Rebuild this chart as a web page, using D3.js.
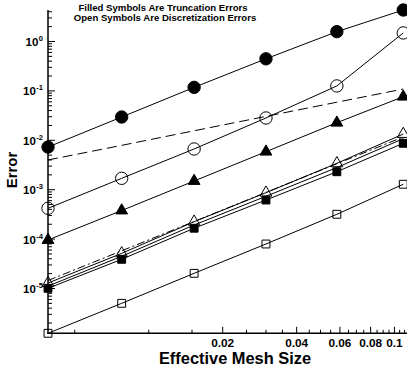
<!DOCTYPE html>
<html>
<head>
<meta charset="utf-8">
<script src="https://cdn.jsdelivr.net/npm/d3@7"></script>
<style>
  body { margin: 0; background: #fff; }
  svg { display: block; font-family: 'Liberation Sans', Arial, sans-serif; font-weight: bold; }
</style>
</head>
<body>
<svg id="chart" width="407" height="366"></svg>
<script>
// mesh sizes (x)
const meshSize = [0.00389, 0.00776, 0.0153, 0.0300, 0.0583, 0.1086];

// series values
const truncCircle = [7.3e-3, 0.0296, 0.118, 0.446, 1.58, 4.34];      // filled circles
const discCircle = [4.2e-4, 1.70e-3, 6.67e-3, 0.0283, 0.126, 1.49];  // open circles
const firstOrderRef = [4.0e-3, 7.9e-3, 0.0156, 0.0305, 0.059, 0.109]; // dashed
const truncTriangle = [9.6e-5, 3.79e-4, 1.50e-3, 5.88e-3, 0.0227, 0.0763]; // filled triangles
const secondOrderRef = [1.45e-5, 5.8e-5, 2.27e-4, 8.8e-4, 3.35e-3, 0.0117]; // dash-dot
const discTriangle = [1.29e-5, 5.15e-5, 2.25e-4, 8.69e-4, 3.42e-3, 0.0134]; // open triangles
const midLine = [1.12e-5, 4.49e-5, 1.93e-4, 7.35e-4, 2.81e-3, 0.0108];   // plain solid
const truncSquare = [1.01e-5, 3.90e-5, 1.66e-4, 6.18e-4, 2.31e-3, 8.70e-3]; // filled squares
const discSquare = [1.24e-6, 5.01e-6, 2.03e-5, 7.96e-5, 3.18e-4, 1.29e-3];  // open squares

const xTickLabels = [0.02, 0.04, 0.06, 0.08, 0.1];
const yTickLabels = [1e-5, 1e-4, 1e-3, 1e-2, 1e-1, 1e0];

const svg = d3.select('#chart');
const plotLeft = 48, plotRight = 407, plotTop = 10, plotBottom = 333.3;

const x = d3.scaleLog().domain([0.00389, 0.1125]).range([plotLeft, plotRight]);
const y = d3.scaleLog().domain([1.24e-6, 4.34]).range([plotBottom, plotTop]);

// titles
svg.append('text').attr('x', 163).attr('y', 11).attr('text-anchor', 'middle')
  .attr('font-size', '9.6px').text('Filled Symbols Are Truncation Errors');
svg.append('text').attr('x', 165).attr('y', 20.5).attr('text-anchor', 'middle')
  .attr('font-size', '9.6px').text('Open Symbols Are Discretization Errors');

// x axis: minor every 0.005, major every 0.02
const xMinor = d3.range(1, 23).map((i) => i * 0.005).filter((v) => v >= x.domain()[0] && v <= x.domain()[1]);
const gx = svg.append('g');
gx.append('line').attr('x1', plotLeft - 0.75).attr('x2', plotRight).attr('y1', plotBottom).attr('y2', plotBottom)
  .attr('stroke', '#000').attr('stroke-width', 1.5);
gx.selectAll('.xminor').data(xMinor).enter().append('line')
  .attr('x1', (d) => x(d)).attr('x2', (d) => x(d))
  .attr('y1', plotBottom).attr('y2', (d) => xTickLabels.some((t) => Math.abs(t - d) < 1e-9) ? plotBottom - 6.5 : plotBottom - 3.5)
  .attr('stroke', '#000').attr('stroke-width', 1);
gx.selectAll('.xlab').data(xTickLabels).enter().append('text')
  .attr('x', (d) => x(d)).attr('y', 347).attr('text-anchor', 'middle')
  .attr('font-size', '11.8px').text((d) => d);
svg.append('text').attr('x', 235).attr('y', 364).attr('text-anchor', 'middle')
  .attr('font-size', '16.4px').text('Effective Mesh Size');

// y axis: log minor ticks
const yTicks = [];
for (let e = -6; e <= 0; e++) for (let m = 1; m <= 9; m++) {
  const v = m * Math.pow(10, e);
  if (v >= y.domain()[0] && v <= y.domain()[1]) yTicks.push({ v, major: m === 1 });
}
const gy = svg.append('g');
gy.append('line').attr('x1', plotLeft).attr('x2', plotLeft).attr('y1', plotTop).attr('y2', plotBottom + 0.75)
  .attr('stroke', '#000').attr('stroke-width', 1.5);
gy.selectAll('.ytick').data(yTicks).enter().append('line')
  .attr('x1', plotLeft).attr('x2', (d) => d.major ? plotLeft + 7 : plotLeft + 4)
  .attr('y1', (d) => y(d.v)).attr('y2', (d) => y(d.v))
  .attr('stroke', '#000').attr('stroke-width', 1);
const ylab = gy.selectAll('.ylab').data(yTickLabels).enter().append('text')
  .attr('x', 43).attr('y', (d) => y(d) + 4.5).attr('text-anchor', 'end').attr('font-size', '11.5px');
ylab.append('tspan').text('10');
ylab.append('tspan').attr('font-size', '7.5px').attr('dx', 0.5).attr('dy', -5)
  .text((d) => Math.round(Math.log10(d)));
svg.append('text').attr('transform', 'translate(17,170) rotate(-90)').attr('text-anchor', 'middle')
  .attr('font-size', '15px').text('Error');

// lines
const line = d3.line().x((d) => x(d[0])).y((d) => y(d[1]));
const series = [
  { vals: truncCircle, dash: null, mark: 'circle', fill: true },
  { vals: discCircle, dash: null, mark: 'circle', fill: false },
  { vals: firstOrderRef, dash: '10,5', mark: null },
  { vals: truncTriangle, dash: null, mark: 'triangle', fill: true },
  { vals: secondOrderRef, dash: '8,3,2,3', mark: null },
  { vals: discTriangle, dash: null, mark: 'triangle', fill: false },
  { vals: midLine, dash: null, mark: null },
  { vals: truncSquare, dash: null, mark: 'square', fill: true },
  { vals: discSquare, dash: null, mark: 'square', fill: false }
];

const g = svg.append('g');
series.forEach((s) => {
  const pts = meshSize.map((m, i) => [m, s.vals[i]]);
  g.append('path').attr('d', line(pts)).attr('fill', 'none').attr('stroke', '#000')
    .attr('stroke-width', 1).attr('stroke-dasharray', s.dash);
});

const symType = { circle: d3.symbolCircle, triangle: d3.symbolTriangle, square: d3.symbolSquare };
const symSize = { circle: 120, triangle: 60, square: 62 };
series.filter((s) => s.mark).forEach((s) => {
  const sym = d3.symbol().type(symType[s.mark]).size(symSize[s.mark]);
  g.selectAll(null).data(meshSize.map((m, i) => [m, s.vals[i]])).enter().append('path')
    .attr('d', sym)
    .attr('transform', (d) => `translate(${x(d[0])},${y(d[1])})`)
    .attr('fill', s.fill ? '#000' : 'none')
    .attr('stroke', '#000').attr('stroke-width', 1);
});
</script>
</body>
</html>
